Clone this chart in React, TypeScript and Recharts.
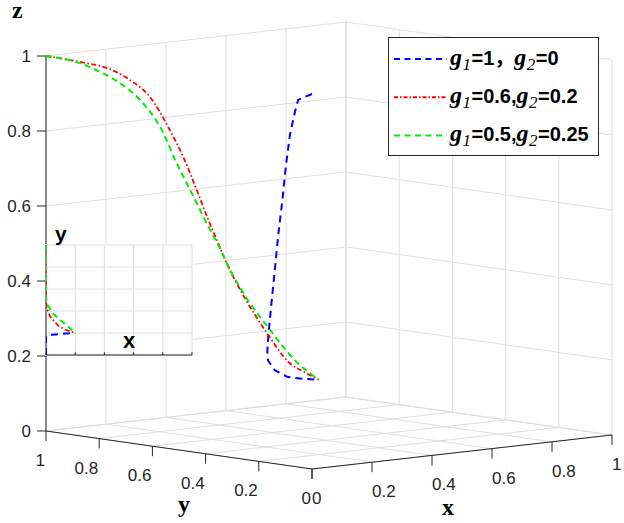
import React from 'react';
import { ComposedChart, Line, XAxis, YAxis, ReferenceLine, Scatter } from 'recharts';

// ---------- data ----------
const ticks = [0, 0.2, 0.4, 0.6, 0.8, 1];
const tickLabels = ['0', '0.2', '0.4', '0.6', '0.8', '1'];

// trajectories (x, y, z)
const blue = [
  { x: 0, y: 0, z: 1.0 },
  { x: 0, y: 0.039, z: 0.985 },
  { x: 0, y: 0.052, z: 0.979 },
  { x: 0, y: 0.064, z: 0.946 },
  { x: 0, y: 0.083, z: 0.883 },
  { x: 0, y: 0.099, z: 0.793 },
  { x: 0, y: 0.112, z: 0.701 },
  { x: 0, y: 0.127, z: 0.611 },
  { x: 0, y: 0.139, z: 0.522 },
  { x: 0, y: 0.152, z: 0.43 },
  { x: 0, y: 0.164, z: 0.34 },
  { x: 0, y: 0.168, z: 0.296 },
  { x: 0.013, y: 0.18, z: 0.27 },
  { x: 0.04, y: 0.185, z: 0.241 },
  { x: 0.088, y: 0.19, z: 0.218 },
  { x: 0.14, y: 0.195, z: 0.208 },
  { x: 0.2, y: 0.2, z: 0.2 },
];

const red = [
  { x: 0, y: 1, z: 1 },
  { x: 0, y: 0.872, z: 0.997 },
  { x: 0, y: 0.771, z: 0.991 },
  { x: 0, y: 0.684, z: 0.968 },
  { x: 0, y: 0.609, z: 0.93 },
  { x: 0, y: 0.534, z: 0.849 },
  { x: 0, y: 0.484, z: 0.783 },
  { x: 0.005, y: 0.439, z: 0.699 },
  { x: 0.012, y: 0.403, z: 0.622 },
  { x: 0.02, y: 0.375, z: 0.562 },
  { x: 0.028, y: 0.352, z: 0.51 },
  { x: 0.04, y: 0.328, z: 0.458 },
  { x: 0.053, y: 0.312, z: 0.419 },
  { x: 0.085, y: 0.265, z: 0.328 },
  { x: 0.13, y: 0.232, z: 0.248 },
  { x: 0.165, y: 0.215, z: 0.222 },
  { x: 0.2, y: 0.2, z: 0.2 },
];

const green = [
  { x: 0, y: 1, z: 1 },
  { x: 0, y: 0.872, z: 0.994 },
  { x: 0, y: 0.797, z: 0.978 },
  { x: 0, y: 0.722, z: 0.956 },
  { x: 0, y: 0.647, z: 0.919 },
  { x: 0, y: 0.565, z: 0.847 },
  { x: 0, y: 0.509, z: 0.764 },
  { x: 0.008, y: 0.461, z: 0.688 },
  { x: 0.025, y: 0.424, z: 0.61 },
  { x: 0.04, y: 0.391, z: 0.545 },
  { x: 0.055, y: 0.37, z: 0.488 },
  { x: 0.07, y: 0.35, z: 0.443 },
  { x: 0.08, y: 0.336, z: 0.414 },
  { x: 0.121, y: 0.294, z: 0.33 },
  { x: 0.161, y: 0.247, z: 0.251 },
  { x: 0.2, y: 0.2, z: 0.2 },
];

const legendG1 = ['1', '0.6', '0.5'];
const legendG2 = ['0', '0.2', '0.25'];
const legendSep = ['，', ',', ','];

// ---------- styles / geometry ----------
const W = 624;
const H = 523;
const GRID = '#dedede';
const AXIS = '#262626';
const SANS = 'Liberation Sans, Arial, sans-serif';
const SERIF = 'Liberation Serif, Times New Roman, serif';
const CJK = 'Noto Sans CJK SC';

const seriesStyle = [
  { key: 'blue', data: blue, color: '#0000ff', dash: '7 5', width: 2, type: 'linear' as const },
  { key: 'red', data: red, color: '#ff0000', dash: '5 2.5 1.5 2.5', width: 1.8, type: 'monotoneX' as const },
  { key: 'green', data: green, color: '#00ee00', dash: '6 4', width: 2, type: 'monotoneX' as const },
];
const legendDash = ['6 4.5', '4 2 1.5 2', '6 4.5'];

// orthographic projection of the 3-D box onto the page
const ORIGIN = { sx: 312, sy: 469 };
const EX = { sx: 300, sy: -34 };
const EY = { sx: -266, sy: -38 };
const EZ = { sx: 0, sy: -375 };
const proj = (x: number, y: number, z: number) => ({
  sx: ORIGIN.sx + x * EX.sx + y * EY.sx + z * EZ.sx,
  sy: ORIGIN.sy + x * EX.sy + y * EY.sy + z * EZ.sy,
});

type P = { sx: number; sy: number };
const seg = (a: P, b: P) => [{ x: a.sx, y: a.sy }, { x: b.sx, y: b.sy }];

const gridSegs: { x: number; y: number }[][] = [];
ticks.forEach((v) => {
  gridSegs.push(seg(proj(v, 1, 0), proj(v, 1, 1)));
  gridSegs.push(seg(proj(0, 1, v), proj(1, 1, v)));
  gridSegs.push(seg(proj(1, v, 0), proj(1, v, 1)));
  gridSegs.push(seg(proj(1, 0, v), proj(1, 1, v)));
  gridSegs.push(seg(proj(v, 0, 0), proj(v, 1, 0)));
  gridSegs.push(seg(proj(0, v, 0), proj(1, v, 0)));
});

const TICK = 9;
const axisSegs: { x: number; y: number }[][] = [
  seg(proj(0, 1, 0), proj(0, 1, 1)),
  seg(proj(0, 0, 0), proj(0, 1, 0)),
  seg(proj(0, 0, 0), proj(1, 0, 0)),
];
ticks.forEach((v) => {
  const pz = proj(0, 1, v);
  axisSegs.push(seg(pz, { sx: pz.sx - TICK, sy: pz.sy }));
  const py = proj(0, v, 0);
  axisSegs.push(seg(py, { sx: py.sx, sy: py.sy + TICK + 1 }));
  const px = proj(v, 0, 0);
  axisSegs.push(seg(px, { sx: px.sx, sy: px.sy + TICK + 1 }));
});

const labelData: any[] = [];
ticks.forEach((v, i) => {
  const pz = proj(0, 1, v);
  labelData.push({ ...pz, text: tickLabels[i], anchor: 'end', dx: -15, dy: 6 });
  const py = proj(0, v, 0);
  labelData.push({ ...py, text: tickLabels[i], anchor: 'end', dx: -1, dy: 35 });
  const px = proj(v, 0, 0);
  labelData.push({ ...px, text: tickLabels[i], anchor: 'start', dx: 0, dy: 35 });
});

const TickText = (props: any) => {
  const { cx, cy, payload } = props;
  return (
    <text
      x={cx + payload.dx}
      y={cy + payload.dy}
      textAnchor={payload.anchor}
      fontSize={17}
      fontFamily={SANS}
      fill={AXIS}
    >
      {payload.text}
    </text>
  );
};

const projected = seriesStyle.map((s) => s.data.map((p) => proj(p.x, p.y, p.z)));

const Sub = ({ n }: { n: string }) => (
  <>
    <tspan fontFamily={SERIF} fontStyle="italic" fontWeight="bold" fontSize={24}>g</tspan>
    <tspan fontFamily={SERIF} fontStyle="italic" fontSize={17} dy={5} dx={0.5}>{n}</tspan>
  </>
);

export default function App() {
  return (
    <div style={{ position: 'absolute', left: 0, top: 0, width: W, height: H, background: '#fff' }}>
      <ComposedChart width={W} height={H} margin={{ top: 0, right: 0, bottom: 0, left: 0 }}>
        <XAxis type="number" dataKey="sx" domain={[0, W]} hide allowDataOverflow />
        <YAxis type="number" dataKey="sy" domain={[0, H]} reversed hide allowDataOverflow />
        {gridSegs.map((s, i) => (
          <ReferenceLine key={'g' + i} segment={s} stroke={GRID} strokeWidth={1} ifOverflow="visible" />
        ))}
        {axisSegs.map((s, i) => (
          <ReferenceLine key={'a' + i} segment={s} stroke={AXIS} strokeWidth={1} ifOverflow="visible" />
        ))}
        {seriesStyle.map((s, i) => (
          <Line
            key={s.key}
            data={projected[i]}
            dataKey="sy"
            type={s.type}
            stroke={s.color}
            strokeWidth={s.width}
            strokeDasharray={s.dash}
            dot={false}
            activeDot={false}
            isAnimationActive={false}
            legendType="none"
          />
        ))}
        <Scatter data={labelData} shape={TickText} isAnimationActive={false} legendType="none" />
      </ComposedChart>

      {/* inset: x-y projection */}
      <div style={{ position: 'absolute', left: 45, top: 244, width: 148, height: 112, background: '#fff' }}>
        <ComposedChart width={148} height={112} margin={{ top: 1, right: 1, bottom: 1, left: 1 }}>
          <XAxis type="number" dataKey="x" domain={[0, 1]} hide allowDataOverflow />
          <YAxis type="number" dataKey="y" domain={[0, 1]} hide allowDataOverflow />
          {ticks.map((v) => (
            <ReferenceLine key={'ix' + v} x={v} stroke={GRID} strokeWidth={1} ifOverflow="visible" />
          ))}
          {ticks.map((v) => (
            <ReferenceLine key={'iy' + v} y={v} stroke={GRID} strokeWidth={1} ifOverflow="visible" />
          ))}
          <ReferenceLine y={0} stroke={AXIS} strokeWidth={1} ifOverflow="visible" />
          <ReferenceLine x={0} stroke={AXIS} strokeWidth={1} ifOverflow="visible" />
          {ticks.map((v) => (
            <ReferenceLine
              key={'it' + v}
              segment={[{ x: v, y: 0 }, { x: v, y: 0.025 }]}
              stroke={AXIS}
              strokeWidth={1}
              ifOverflow="visible"
            />
          ))}
          {seriesStyle.map((s) => (
            <Line
              key={'in' + s.key}
              data={s.data}
              dataKey="y"
              type="linear"
              stroke={s.color}
              strokeWidth={s.width}
              strokeDasharray={s.dash}
              dot={false}
              activeDot={false}
              isAnimationActive={false}
              legendType="none"
            />
          ))}
        </ComposedChart>
      </div>

      {/* titles, inset labels and legend */}
      <svg
        width={W}
        height={H}
        style={{ position: 'absolute', left: 0, top: 0, pointerEvents: 'none' }}
      >
        <text x={12} y={17.5} fontFamily={SERIF} fontWeight="bold" fontSize={24} fill="#000">z</text>
        <text x={178} y={512} fontFamily={SERIF} fontWeight="bold" fontSize={24} fill="#000">y</text>
        <text x={442} y={515} fontFamily={SERIF} fontWeight="bold" fontSize={24} fill="#000">x</text>
        <text x={55} y={241} fontFamily={SANS} fontWeight="bold" fontSize={21} fill="#000">y</text>
        <text x={123} y={348} fontFamily={SANS} fontWeight="bold" fontSize={22} fill="#000">x</text>

        <rect x={388.5} y={37.5} width={210} height={118} fill="#fff" stroke={AXIS} strokeWidth={1} />
        {seriesStyle.map((s, i) => {
          const ly = 59 + i * 38.25;
          return (
            <g key={'lg' + i}>
              <line
                x1={394}
                x2={447}
                y1={ly}
                y2={ly}
                stroke={s.color}
                strokeWidth={1.8}
                strokeDasharray={legendDash[i]}
              />
              <text x={450} y={ly + 5.5} fill="#000">
                <Sub n="1" />
                <tspan fontFamily={SANS} fontWeight="bold" fontSize={20} dy={-5} dx={0.5}>
                  {'=' + legendG1[i]}
                </tspan>
                <tspan fontFamily={i === 0 ? CJK : SANS} fontWeight="bold" fontSize={20}>
                  {legendSep[i]}
                </tspan>
                <Sub n="2" />
                <tspan fontFamily={SANS} fontWeight="bold" fontSize={20} dy={-5} dx={0.5}>
                  {'=' + legendG2[i]}
                </tspan>
              </text>
            </g>
          );
        })}
      </svg>
    </div>
  );
}
